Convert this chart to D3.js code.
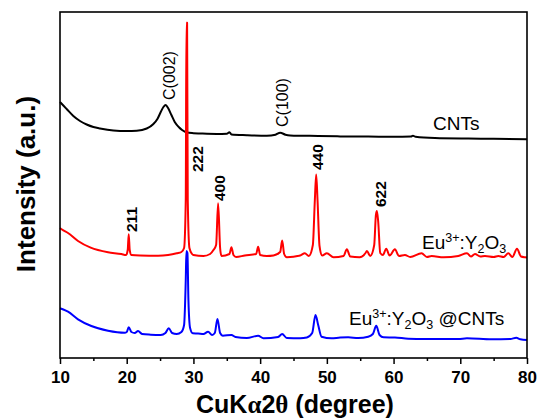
<!DOCTYPE html>
<html>
<head>
<meta charset="utf-8">
<script src="https://cdn.jsdelivr.net/npm/d3@7/dist/d3.min.js"></script>
<style>
  html, body { margin: 0; padding: 0; background: #fff; }
  svg { display: block; font-family: Arial, "Liberation Sans", sans-serif; }
</style>
</head>
<body>
<svg id="chart" width="539" height="420"></svg>
<script>
// ---- Data (2θ in degrees, intensity in arbitrary units) ----
const xTicks = [10, 20, 30, 40, 50, 60, 70, 80];
const xMinorTicks = [15, 25, 35, 45, 55, 65, 75];
const seriesNames = ["CNTs", "Eu:Y2O3", "Eu:Y2O3@CNTs"];
const seriesColors = ["#000000", "#ff0000", "#0000ff"];

const cnts = [
  [10.0, 256], [10.5, 252.5], [11.0, 249], [12.0, 242], [13.0, 237], [14.0, 233.5], [15.0, 231],
  [16.0, 229.5], [18.0, 227.5], [20.0, 227], [21.5, 227.3], [23.0, 229.5], [24.0, 234],
  [24.6, 239], [25.1, 246], [25.5, 251], [25.85, 253], [26.2, 250], [26.7, 243], [27.2, 236],
  [27.8, 231], [28.3, 228], [29.0, 225.5], [30.0, 224.8], [31.0, 224.5], [33.5, 224],
  [35.0, 224.3], [35.4, 225.8], [35.7, 223.5], [38.0, 222.8], [41.0, 222.3], [42.3, 223.3],
  [43.0, 225.3], [43.8, 223.3], [44.5, 222.6], [48.7, 222], [52.0, 221.6], [56.2, 221.4],
  [60.0, 221.2], [62.6, 221.4], [62.9, 222.3], [63.3, 221.2], [66.2, 219.9], [71.2, 219.4],
  [75.0, 219.2], [80.0, 218.7]
];

const euY2O3 = [
  [10.0, 130], [10.3, 128.5], [11.2, 125], [12.7, 117], [14.6, 110.3], [17.2, 105.7],
  [19.2, 104], [19.9, 103], [20.15, 108], [20.3, 123.7], [20.45, 108], [20.7, 103],
  [22.0, 102.5], [24.7, 102.3], [26.2, 103], [27.5, 104.7], [28.2, 106], [28.6, 110],
  [28.85, 158], [28.95, 335.3], [29.05, 335.3], [29.15, 158], [29.4, 110], [29.8, 104],
  [30.0, 103], [31.5, 102], [32.5, 104], [33.0, 108], [33.4, 113], [33.7, 154.7], [34.0, 110],
  [34.2, 102], [35.4, 104], [35.7, 110.7], [36.0, 103], [36.4, 101], [37.7, 102.5],
  [39.4, 104], [39.7, 111.3], [40.0, 103], [41.0, 102], [42.0, 102.5], [43.0, 106],
  [43.3, 117.5], [43.6, 104], [44.0, 100.7], [46.0, 102.5], [46.7, 104.7], [47.3, 102],
  [47.9, 113], [48.2, 158], [48.4, 183.5], [48.6, 158], [48.9, 112], [49.3, 102.5],
  [50.0, 104.7], [51.0, 100.7], [52.5, 102], [53.0, 108.7], [53.5, 101.5], [54.9, 100.7],
  [55.8, 105], [56.0, 107], [56.5, 102], [57.1, 113], [57.35, 143], [57.5, 147], [57.7, 136],
  [58.0, 105], [58.4, 103], [58.9, 109.3], [59.4, 102.5], [60.2, 108.7], [60.8, 102],
  [61.7, 103], [62.5, 101], [64.2, 104.7], [65.0, 101], [65.7, 102], [67.5, 100.7],
  [69.7, 102], [71.0, 104.7], [71.6, 101.5], [72.2, 104], [73.0, 101.5], [73.7, 102],
  [75.0, 101], [75.7, 102], [76.5, 101], [77.2, 104.7], [77.8, 101], [78.5, 109.3],
  [79.1, 101.5], [79.7, 100.7], [80.0, 100.5]
];

const euY2O3CNTs = [
  [10.0, 49.7], [10.5, 48.5], [11.2, 46.3], [12.7, 38.7], [14.7, 32], [17.2, 27.3],
  [19.7, 25.3], [20.0, 26], [20.3, 30.7], [20.7, 26], [21.2, 25], [21.7, 27], [22.3, 24],
  [23.6, 23.3], [25.1, 23], [25.8, 25], [26.3, 29.7], [26.8, 25], [27.5, 24], [28.2, 26],
  [28.6, 33], [28.85, 78], [28.95, 107], [29.1, 105], [29.25, 58], [29.5, 30], [29.9, 24.7],
  [30.7, 24.5], [31.5, 24], [32.2, 26.3], [32.8, 23], [33.2, 25], [33.6, 39], [34.0, 25],
  [34.4, 22.3], [35.7, 23], [36.3, 21], [38.0, 20], [39.7, 22.3], [40.5, 19.7], [42.7, 21],
  [43.3, 24], [44.0, 20], [46.0, 19.7], [47.0, 20.5], [47.8, 25], [48.3, 43], [48.7, 33],
  [49.2, 21.3], [50.7, 19.7], [52.0, 20.5], [53.2, 20.7], [54.7, 20], [56.2, 21.3],
  [56.9, 24], [57.4, 32.3], [57.9, 23], [58.5, 20.7], [60.2, 20.5], [62.2, 19.3],
  [64.7, 19], [69.7, 19], [71.0, 19.7], [74.7, 18.7], [77.5, 19], [78.4, 20.3],
  [79.0, 18.7], [80.0, 18]
];

const peakLabels = ["C(002)", "C(100)", "211", "222", "400", "440", "622"];

// ---- Layout ----
const svg = d3.select("#chart");
const mLeft = 60, mRight = 527, mTop = 12, mBottom = 358;

const x = d3.scaleLinear().domain([10, 80]).range([mLeft, mRight]);
const y = d3.scaleLinear().domain([0, 346]).range([mBottom, mTop]);

const line = d3.line()
  .x(d => x(d[0]))
  .y(d => y(d[1]))
  .curve(d3.curveMonotoneX);

const allSeries = [cnts, euY2O3, euY2O3CNTs];
[0, 2, 1].forEach(i => {
  svg.append("path")
    .datum(allSeries[i])
    .attr("fill", "none")
    .attr("stroke", seriesColors[i])
    .attr("stroke-width", 2)
    .attr("stroke-linejoin", "round")
    .attr("d", line);
});

// ---- Frame ----
svg.append("rect")
  .attr("x", mLeft).attr("y", mTop)
  .attr("width", mRight - mLeft).attr("height", mBottom - mTop)
  .attr("fill", "none").attr("stroke", "#000").attr("stroke-width", 1.6);

// ---- X axis ----
const xAxis = d3.axisBottom(x).tickValues(xTicks).tickSize(6).tickPadding(7)
  .tickFormat(d3.format("d"));
const gx = svg.append("g").attr("transform", `translate(0,${mBottom})`).call(xAxis);
gx.select(".domain").remove();
gx.selectAll(".tick line").attr("stroke-width", 1.5);
gx.selectAll(".tick text")
  .attr("font-size", 17).attr("font-weight", "bold")
  .attr("font-family", "Arial, 'Liberation Sans', sans-serif").attr("fill", "#000");

const xMinor = d3.axisBottom(x).tickValues(xMinorTicks).tickSize(3).tickFormat("");
const gxm = svg.append("g").attr("transform", `translate(0,${mBottom})`).call(xMinor);
gxm.select(".domain").remove();
gxm.selectAll(".tick line").attr("stroke-width", 1.5);

// ---- Axis titles ----
const xt = svg.append("text")
  .attr("x", 295).attr("y", 413)
  .attr("text-anchor", "middle")
  .attr("font-size", 25).attr("font-weight", "bold");
xt.append("tspan").text("CuK");
xt.append("tspan").attr("font-family", "'Liberation Serif', 'DejaVu Serif', serif").text("α");
xt.append("tspan").text("2");
xt.append("tspan").attr("font-family", "'Liberation Serif', 'DejaVu Serif', serif").text("θ");
xt.append("tspan").text(" (degree)");

svg.append("text")
  .attr("transform", "translate(35,184) rotate(-90)")
  .attr("text-anchor", "middle")
  .attr("font-size", 26).attr("font-weight", "bold")
  .text("Intensity (a.u.)");

// ---- Peak annotations (rotated) ----
function vlabel(txt, bx, by, size, weight) {
  svg.append("text")
    .attr("transform", `translate(${bx},${by}) rotate(-90)`)
    .attr("text-anchor", "start")
    .attr("font-size", size).attr("font-weight", weight)
    .text(txt);
}
vlabel(peakLabels[0], x(25.85) + 9, y(258), 16, "normal");
vlabel(peakLabels[1], x(43.0) + 8, y(231), 16, "normal");
vlabel(peakLabels[2], x(20.3) + 8, y(126), 15.5, "bold");
vlabel(peakLabels[3], x(29.0) + 16, 172, 15.5, "bold");
vlabel(peakLabels[4], x(33.7) + 7, y(157), 15.5, "bold");
vlabel(peakLabels[5], x(48.4) + 7, y(188), 15.5, "bold");
vlabel(peakLabels[6], x(57.5) + 9, y(151), 15.5, "bold");

// ---- Series labels ----
svg.append("text").attr("x", 433).attr("y", 130)
  .attr("font-size", 19).text(seriesNames[0]);

function euLabel(xp, yp, suffix) {
  const t = svg.append("text").attr("x", xp).attr("y", yp).attr("font-size", 19);
  t.append("tspan").text("Eu");
  t.append("tspan").attr("font-size", 12.5).attr("dy", -7).text("3+");
  t.append("tspan").attr("dy", 7).text(":Y");
  t.append("tspan").attr("font-size", 12.5).attr("dy", 4).text("2");
  t.append("tspan").attr("dy", -4).text("O");
  t.append("tspan").attr("font-size", 12.5).attr("dy", 4).text("3");
  if (suffix) t.append("tspan").attr("dy", -4).text(suffix);
}
euLabel(422, 249, null);
euLabel(349, 325, " @CNTs");
</script>
</body>
</html>
